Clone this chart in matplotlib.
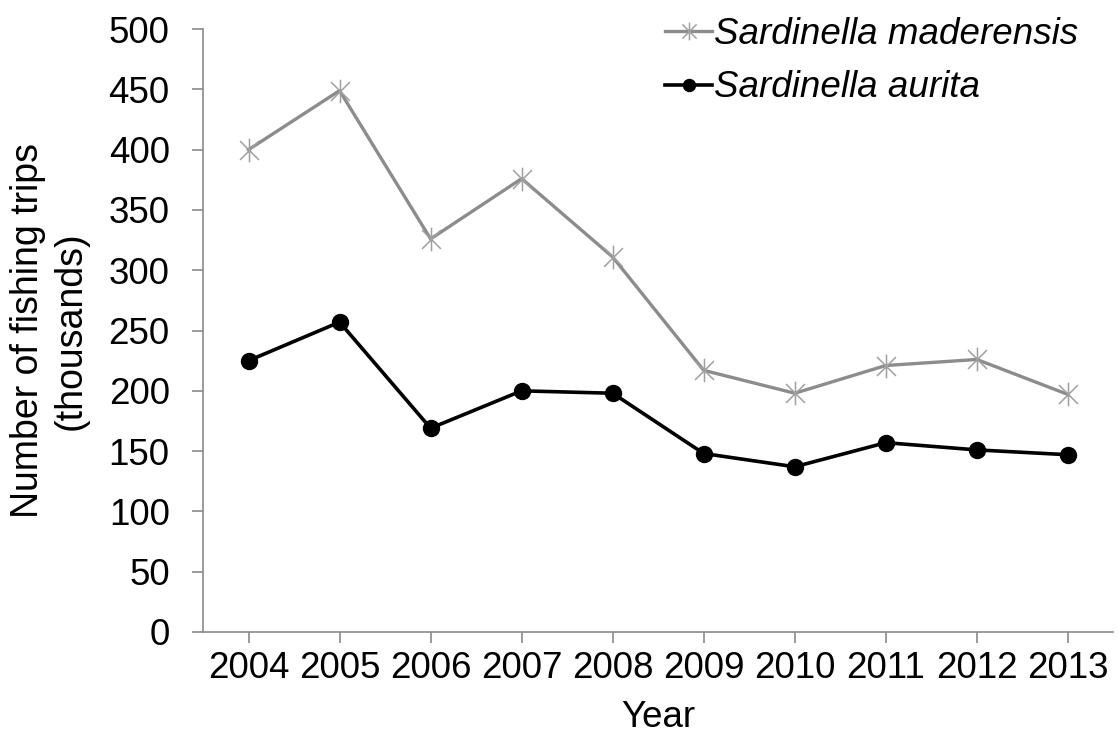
import numpy as np
import matplotlib.pyplot as plt
from matplotlib.path import Path

years = ['2004', '2005', '2006', '2007', '2008', '2009', '2010', '2011', '2012', '2013']
maderensis = [400, 449, 326, 376, 311, 217, 198, 221, 226, 197]
aurita = [225, 257, 169, 200, 198, 148, 137, 157, 151, 147]

plt.rcParams['font.family'] = ['Liberation Sans', 'DejaVu Sans']

# excel-like star marker: X plus vertical bar
star = Path([(-1, -1), (1, 1), (-1, 1), (1, -1), (0, -1.25), (0, 1.25)],
            [Path.MOVETO, Path.LINETO, Path.MOVETO, Path.LINETO, Path.MOVETO, Path.LINETO])

fig = plt.figure(figsize=(11.19, 7.47), dpi=100)
ax = fig.add_axes([0.1814, 0.154, 0.8136, 0.807])
x = np.arange(len(years))
ax.plot(x, maderensis, color='#8c8c8c', lw=2.4, marker=star, ms=17,
        mec='#a0a0a0', mew=1.1, label='Sardinella maderensis')
ax.plot(x, aurita, color='black', lw=2.6, marker='o', ms=11.5,
        label='Sardinella aurita')

ax.set_xlim(-0.5, len(years) - 0.5)
ax.set_ylim(0, 500)
ax.set_yticks(range(0, 501, 50))
ax.set_xticks(x)
ax.set_xticklabels(years)
for s in ['top', 'right']:
    ax.spines[s].set_visible(False)
for s in ['left', 'bottom']:
    ax.spines[s].set_color('#8a8a8a')
    ax.spines[s].set_linewidth(1.2)
ax.tick_params(colors='#8a8a8a', labelcolor='black', labelsize=26.5, length=8, width=1.2)
ax.tick_params(axis='x', pad=6)
ax.tick_params(axis='y', pad=16)
ax.set_xlabel('Year', fontsize=26.5, labelpad=10)
ax.set_ylabel('Number of fishing trips\n(thousands)', fontsize=27, labelpad=14,
              linespacing=1.25)

leg = ax.legend(loc='upper right', bbox_to_anchor=(0.998, 1.075), frameon=False,
                prop={'style': 'italic', 'size': 26.5}, handlelength=1.3,
                handletextpad=0.05, labelspacing=0.5, markerscale=0.75)

fig.savefig('out.png', dpi=100)
